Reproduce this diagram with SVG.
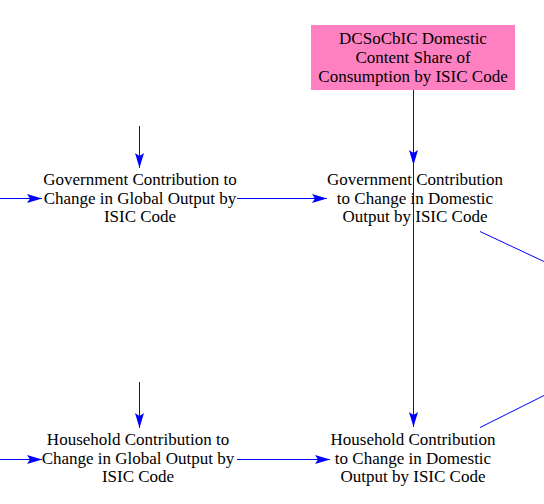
<svg xmlns="http://www.w3.org/2000/svg" width="544" height="504" viewBox="0 0 544 504">
<style>
.t{font-family:"Liberation Serif","Times New Roman",serif;font-size:17px;fill:#000;text-anchor:middle}
.c{stroke:#0000FF;stroke-width:1;fill:none}
.a{marker-end:url(#ah)}
</style>
<defs>
<marker id="ah" markerUnits="userSpaceOnUse" markerWidth="16" markerHeight="10" refX="15" refY="4.5" orient="auto" viewBox="0 0 16 10">
<path d="M0,0 L15,4.5 L0,9 L3,4.5 z" fill="#0000FF"/>
</marker>
</defs>
<rect width="544" height="504" fill="#fff"/>
<g id="connectors">
<path class="c a" d="M413.5,90 V165"/>
<path class="c a" d="M413.5,90 V427"/>
<path class="c a" d="M139.5,126 V168"/>
<path class="c a" d="M139.5,382 V428"/>
<path class="c a" d="M0,198.5 H42"/>
<path class="c a" d="M0,459.5 H42"/>
<path class="c a" d="M237,198.5 H327"/>
<path class="c a" d="M237,459.5 H330"/>
<path class="c" d="M480,231.5 L544,261.5"/>
<path class="c" d="M480,427.5 L544,395.5"/>
</g>
<g id="dcsocbic">
<rect x="311" y="25" width="204" height="65" fill="#FF80C0"/>
<text class="t" x="413" y="43.5">DCSoCbIC Domestic</text>
<text class="t" x="413" y="62.5">Content Share of</text>
<text class="t" x="413" y="81.5">Consumption by ISIC Code</text>
</g>
<g id="gov_global">
<text class="t" x="140" y="185">Government Contribution to</text>
<text class="t" x="140" y="203.5">Change in Global Output by</text>
<text class="t" x="140" y="222">ISIC Code</text>
</g>
<g id="gov_domestic">
<text class="t" x="415" y="185">Government Contribution</text>
<text class="t" x="415" y="203.5">to Change in Domestic</text>
<text class="t" x="415" y="222">Output by ISIC Code</text>
</g>
<g id="hh_global">
<text class="t" x="138" y="445">Household Contribution to</text>
<text class="t" x="138" y="463.5">Change in Global Output by</text>
<text class="t" x="138" y="482">ISIC Code</text>
</g>
<g id="hh_domestic">
<text class="t" x="413" y="445">Household Contribution</text>
<text class="t" x="413" y="463.5">to Change in Domestic</text>
<text class="t" x="413" y="482">Output by ISIC Code</text>
</g>
</svg>
